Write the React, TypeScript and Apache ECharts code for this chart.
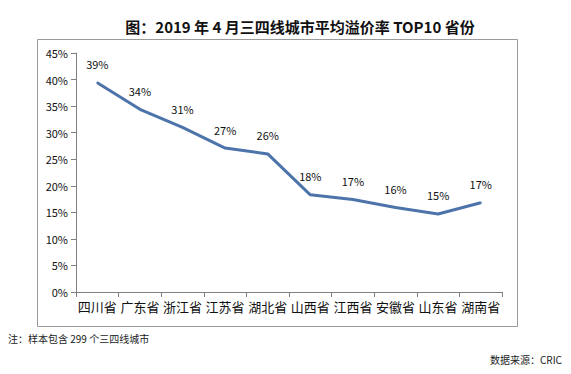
import React, { useEffect, useRef } from "react";
import * as echarts from "echarts";

const TITLE = "图：2019 年 4 月三四线城市平均溢价率 TOP10 省份";
const NOTE = "注：样本包含 299 个三四线城市";
const SOURCE = "数据来源：CRIC";
const provinces = ["四川省", "广东省", "浙江省", "江苏省", "湖北省", "山西省", "江西省", "安徽省", "山东省", "湖南省"];
const premiumRate = [39.4, 34.4, 31.0, 27.1, 26.0, 18.3, 17.4, 15.9, 14.7, 16.8];
const yMin = 0;
const yMax = 45;
const yStep = 5;

const FONT = "'Noto Sans CJK SC', 'Noto Sans', sans-serif";

export default function App() {
  const ref = useRef<HTMLDivElement>(null);
  useEffect(() => {
    if (!ref.current) return;
    const chart = echarts.init(ref.current, null, { renderer: "svg" });
    chart.setOption({
      animation: false,
      backgroundColor: "#ffffff",
      textStyle: { fontFamily: FONT },
      grid: { left: 76, top: 53, width: 426, height: 239, containLabel: false },
      graphic: [
        {
          type: "rect",
          shape: { x: 37.5, y: 39.5, width: 480, height: 287 },
          style: { fill: "none", stroke: "#9a9a9a", lineWidth: 1 },
          silent: true,
        },
        {
          type: "text",
          x: 300,
          y: 26,
          style: {
            text: TITLE,
            fontFamily: FONT,
            fontSize: 15,
            fontWeight: "bold",
            fill: "#111",
            textAlign: "center",
            textVerticalAlign: "middle",
          },
        },
        {
          type: "text",
          x: 8,
          y: 338,
          style: {
            text: NOTE,
            fontFamily: FONT,
            fontSize: 10,
            fill: "#222",
            textAlign: "left",
            textVerticalAlign: "middle",
          },
        },
        {
          type: "text",
          x: 562,
          y: 359,
          style: {
            text: SOURCE,
            fontFamily: FONT,
            fontSize: 10,
            fill: "#222",
            textAlign: "right",
            textVerticalAlign: "middle",
          },
        },
      ],
      xAxis: {
        type: "category",
        data: provinces,
        boundaryGap: true,
        axisLine: { lineStyle: { color: "#808080", width: 1 } },
        axisTick: { show: true, length: 5, lineStyle: { color: "#808080" } },
        axisLabel: { color: "#111", fontSize: 13, margin: 8, fontFamily: FONT, interval: 0 },
        splitLine: { show: false },
      },
      yAxis: {
        type: "value",
        min: yMin,
        max: yMax,
        interval: yStep,
        axisLine: { show: true, lineStyle: { color: "#808080", width: 1 } },
        axisTick: { show: true, length: 5, lineStyle: { color: "#808080" } },
        axisLabel: { color: "#111", fontSize: 11, margin: 8, formatter: "{value}%", fontFamily: FONT },
        splitLine: { show: false },
      },
      series: [
        {
          type: "line",
          data: premiumRate,
          symbol: "circle",
          symbolSize: 2,
          showSymbol: true,
          itemStyle: { color: "#4d74aa" },
          lineStyle: { color: "#4d74aa", width: 3 },
          label: {
            show: true,
            position: "top",
            distance: 12,
            fontSize: 11,
            color: "#111",
            fontFamily: FONT,
            formatter: (p: any) => Math.round(p.value) + "%",
          },
        },
      ],
    });
    return () => chart.dispose();
  }, []);
  return (
    <div
      ref={ref}
      style={{ position: "absolute", left: 0, top: 0, width: 571, height: 374, background: "#fff" }}
    />
  );
}
